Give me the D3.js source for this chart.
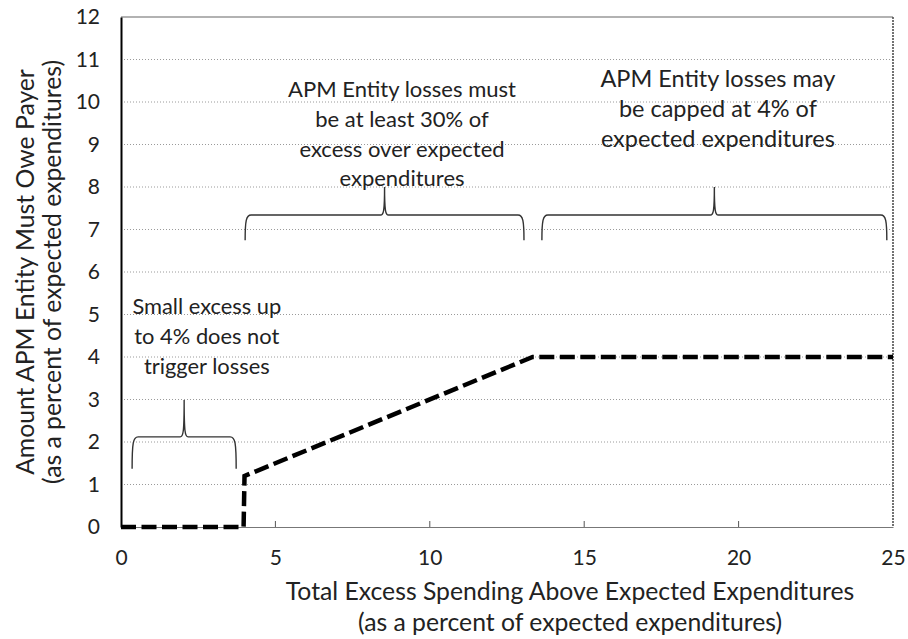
<!DOCTYPE html>
<html>
<head>
<meta charset="utf-8">
<script src="https://d3js.org/d3.v7.min.js"></script>
<style>
  body { margin: 0; background: #fff; }
  svg { font-family: Lato, "Open Sans", sans-serif; }
</style>
</head>
<body>
<div id="chart"></div>
<script>
// line: excess spending (%) vs amount owed (%)
var xVals = [0, 3.97, 4, 13.33, 25];
var yVals = [0, 0, 1.2, 4, 4];

var xTicks = [0, 5, 10, 15, 20, 25];
var yTicks = [0, 1, 2, 3, 4, 5, 6, 7, 8, 9, 10, 11, 12];

// curly braces: [start, end, level, tip, peak]
var braceStart = [0.36, 4.02, 13.63];
var braceEnd   = [3.73, 13.05, 24.8];
var braceLevel = [2.12, 7.34, 7.34];
var braceTip   = [1.37, 6.75, 6.75];
var bracePeak  = [2.99, 8.0, 8.0];

var noteLines = [
  ["Small excess up", "to 4% does not", "trigger losses"],
  ["APM Entity losses must", "be at least 30% of", "excess over expected", "expenditures"],
  ["APM Entity losses may", "be capped at 4% of", "expected expenditures"]
];
var noteX = [2.78, 9.1, 19.33];
var noteTop = [5.01, 10.12, 10.35];   // baseline of first line, in y units
var noteWidth = [149, 228, 235];      // width of first line in px

var xTitle = ["Total Excess Spending Above Expected Expenditures", "(as a percent of expected expenditures)"];
var yTitle = ["Amount APM Entity Must Owe Payer", "(as a percent of expected expenditures)"];

var W = 908, H = 639;
var margin = {left: 121, right: 15, top: 17, bottom: 112};
var w = W - margin.left - margin.right;
var h = H - margin.top - margin.bottom;

var xScale = d3.scaleLinear().domain([0, 25]).range([0, w]);
var yScale = d3.scaleLinear().domain([0, 12]).range([h, 0]);

var svg = d3.select("#chart").append("svg")
  .attr("width", W).attr("height", H);

var g = svg.append("g")
  .attr("transform", "translate(" + margin.left + "," + margin.top + ")");

// scale a set of texts to one font size so their widths come near the targets
function fitWidth(texts, targets) {
  var k = d3.mean(texts, function(t, i) {
    var node = t.select("tspan").node() || t.node();
    return targets[i] / node.getComputedTextLength();
  });
  texts.forEach(function(t) { t.attr("font-size", +t.attr("font-size") * k); });
}

// gridlines
g.selectAll(".grid")
  .data(yTicks.filter(d => d > 0 && d < 12))
  .enter().append("line")
  .attr("x1", 0).attr("x2", w)
  .attr("y1", d => yScale(d)).attr("y2", d => yScale(d))
  .attr("stroke", "#9a9a9a")
  .attr("stroke-width", 1)
  .attr("stroke-dasharray", "1,2");

// top and right frame
g.append("line")
  .attr("x1", 0).attr("x2", w).attr("y1", yScale(12)).attr("y2", yScale(12))
  .attr("stroke", "#666").attr("stroke-width", 1.2);
g.append("line")
  .attr("x1", w).attr("x2", w).attr("y1", 0).attr("y2", h)
  .attr("stroke", "#444").attr("stroke-width", 1.5).attr("stroke-dasharray", "2,1");

// x axis
var xAxis = d3.axisBottom(xScale).tickValues(xTicks).tickSize(0).tickPadding(23);
var xg = g.append("g").attr("transform", "translate(0," + h + ")").call(xAxis);
xg.select(".domain").attr("stroke", "#777").attr("stroke-width", 1.2);
xg.selectAll("text").attr("font-size", 21).attr("fill", "#222").attr("font-family", "Lato");
g.selectAll(".xtick")
  .data(xTicks.filter(d => d > 0 && d < 25))
  .enter().append("line")
  .attr("x1", d => xScale(d)).attr("x2", d => xScale(d))
  .attr("y1", h).attr("y2", h - 6)
  .attr("stroke", "#555");

// y axis
var yAxis = d3.axisLeft(yScale).tickValues(yTicks).tickSize(0).tickPadding(21);
var yg = g.append("g").call(yAxis);
yg.select(".domain").attr("stroke", "#000").attr("stroke-width", 2);
yg.selectAll("text").attr("font-size", 21).attr("fill", "#222").attr("font-family", "Lato");

// braces
function bracePath(i) {
  var x0 = xScale(braceStart[i]), x1 = xScale(braceEnd[i]);
  var xm = xScale((braceStart[i] + braceEnd[i]) / 2);
  var yl = yScale(braceLevel[i]), yt = yScale(braceTip[i]), yp = yScale(bracePeak[i]);
  var r = 6;
  var p = d3.path();
  p.moveTo(x0, yt);
  p.bezierCurveTo(x0, yl + r, x0 + 1, yl, x0 + r, yl);
  p.lineTo(xm - 4, yl);
  p.bezierCurveTo(xm - 1, yl, xm, yl - 4, xm, yp);
  p.bezierCurveTo(xm, yl - 4, xm + 1, yl, xm + 4, yl);
  p.lineTo(x1 - r, yl);
  p.bezierCurveTo(x1 - 1, yl, x1, yl + r, x1, yt);
  return p.toString();
}
g.selectAll(".brace")
  .data(braceStart)
  .enter().append("path")
  .attr("d", (d, i) => bracePath(i))
  .attr("fill", "none")
  .attr("stroke", "#333")
  .attr("stroke-width", 1.4);

// notes
noteLines.forEach(function(lines, i) {
  var t = g.append("text")
    .attr("text-anchor", "middle")
    .attr("font-size", 20)
    .attr("fill", "#222");
  lines.forEach(function(s, j) {
    t.append("tspan")
      .attr("x", xScale(noteX[i]))
      .attr("y", yScale(noteTop[i]) + j * 29.8)
      .text(s);
  });
  fitWidth([t], [noteWidth[i]]);
});

// main line
var line = d3.line().x(d => xScale(d[0])).y(d => yScale(d[1]));
g.append("path")
  .datum(xVals.map((x, i) => [x, yVals[i]]))
  .attr("d", line)
  .attr("fill", "none")
  .attr("stroke", "#000")
  .attr("stroke-width", 4.5)
  .attr("stroke-dasharray", "15,5.5");

// axis titles (same size for all four lines)
var titleTexts = [];
xTitle.forEach(function(s, j) {
  titleTexts.push(svg.append("text")
    .attr("x", 570).attr("y", 600 + j * 31)
    .attr("text-anchor", "middle")
    .attr("font-size", 20)
    .attr("fill", "#222")
    .text(s));
});
yTitle.forEach(function(s, j) {
  titleTexts.push(svg.append("text")
    .attr("transform", "translate(" + (34 + j * 27) + ",272) rotate(-90)")
    .attr("text-anchor", "middle")
    .attr("font-size", 20)
    .attr("fill", "#222")
    .text(s));
});
fitWidth(titleTexts, [560, 427, 407, 427]);
</script>
</body>
</html>
